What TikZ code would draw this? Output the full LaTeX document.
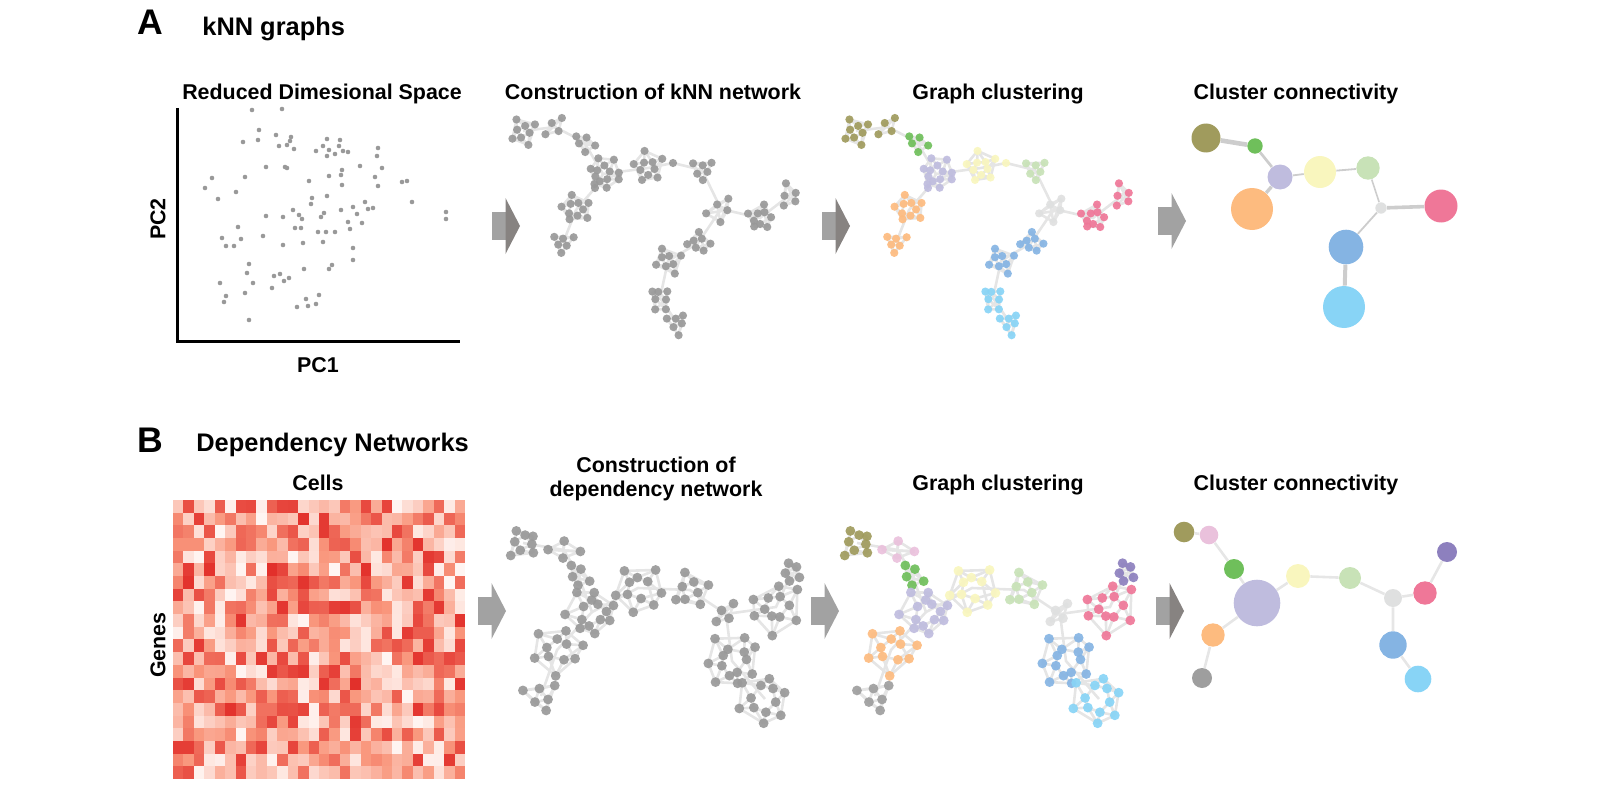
\documentclass[tikz,border=0pt]{standalone}
\usepackage{fontspec}
\setmainfont{Liberation Sans}
\usetikzlibrary{calc}
\pgfdeclarelayer{bg}
\pgfsetlayers{bg,main}
\definecolor{dotgray}{HTML}{999999}
\definecolor{edgegray}{HTML}{E5E5E5}
\definecolor{ccedge}{HTML}{CDCDCD}
\definecolor{ccedgeB}{HTML}{E6E6E6}
\definecolor{hmlow}{HTML}{FFF5F2}
\definecolor{hmmid}{HTML}{F9967C}
\definecolor{hmhigh}{HTML}{E2302B}
\definecolor{olv}{HTML}{A09B5D}
\definecolor{grn}{HTML}{6FBF5B}
\definecolor{lav}{HTML}{BFBCDE}
\definecolor{yel}{HTML}{F9F6BE}
\definecolor{lgr}{HTML}{C8E2B7}
\definecolor{hub}{HTML}{DFE0E0}
\definecolor{pnk}{HTML}{EF7798}
\definecolor{blu}{HTML}{85B4E3}
\definecolor{lbl}{HTML}{88D4F6}
\definecolor{org}{HTML}{FDBB7F}
\definecolor{lpk}{HTML}{EAC1DC}
\definecolor{ppl}{HTML}{8D80BE}
\definecolor{gry}{HTML}{9E9E9E}
\definecolor{arrlt}{HTML}{A2A2A2}
\definecolor{arrdk}{HTML}{878381}
\tikzset{
  ttl/.style={font=\fontsize{10.7}{12}\selectfont\bfseries, inner sep=0pt},
  panel/.style={font=\fontsize{17.8}{20}\selectfont\bfseries, inner sep=0pt},
  sect/.style={font=\fontsize{12.7}{15}\selectfont\bfseries, inner sep=0pt},
  sdot/.style={fill=dotgray, radius=1.15pt},
  lnk/.style={draw=edgegray, line width=1.3pt},
  dotA/.style={radius=2.05pt},
  dotB/.style={radius=2.45pt},
  knn/.style={fill=dotgray, fill opacity=0.92},
  clu/.style={fill=#1, fill opacity=0.92},
  ccnode/.style={circle, inner sep=0pt, draw=none},
  ccA/.style={draw=ccedge},
  ccB/.style={draw=ccedgeB, line width=1.3pt},
}
% name, x, y, radius, count, turn, style
\newcommand{\clus}[7]{
  \coordinate (#1) at (#2,#3);
  \foreach \i in {1,...,#5}{
    \pgfmathsetmacro{\ang}{#6+360*\i/#5+24*rnd-12}
    \pgfmathsetmacro{\rad}{1.15*#4*(isodd(\i) ? 1 : 0.5)*(0.8+0.4*rnd)}
    \coordinate (#1-\i) at ($(#2,#3)+(\ang:\rad)$);
  }
  \begin{pgfonlayer}{bg}
  \foreach \i in {1,...,#5}{
    \pgfmathtruncatemacro{\j}{mod(\i,#5)+1}
    \pgfmathtruncatemacro{\k}{mod(\i+1,#5)+1}
    \draw[lnk] (#1-\i) -- (#1-\j) (#1-\i) -- (#1-\k);
  }
  \end{pgfonlayer}
  \foreach \i in {1,...,#5}{ \fill[#7] (#1-\i) circle; }
}
% x, y, body colour, head colour
\newcommand{\blockarr}[4]{ \fill[#3] (#1,#2-14) rectangle (#1+14,#2+14); \fill[#4] (#1+13.5,#2-28) -- (#1+28,#2) -- (#1+13.5,#2+28) -- cycle;}
% prefix, x shift, mode
\newcommand{\netA}[3]{
  \pgfmathsetseed{11}
  \begin{scope}[shift={(#2,0)}]
    \clus{#1a1}{523}{131}{11}{8}{20}{#3=olv,dotA}
    \clus{#1a2}{555}{127}{9}{4}{45}{#3=olv,dotA}
    \clus{#1a3}{584}{142}{10}{5}{10}{#3=grn,dotA}
    \clus{#1a16}{595}{188}{0}{1}{0}{#3=lav,dotA}
    \clus{#1a4}{603}{174}{14}{13}{0}{#3=lav,dotA}
    \clus{#1a5}{648}{168}{13}{10}{15}{#3=yel,dotA}
    \clus{#1a5b}{673}{163}{0}{1}{0}{#3=yel,dotA}
    \clus{#1a6}{702}{170}{10}{6}{30}{#3=lgr,dotA}
    \clus{#1a7}{721}{209}{12}{5}{90}{#3=hub,dotA}
    \clus{#1a8}{760}{218}{11}{9}{0}{#3=pnk,dotA}
    \clus{#1a9}{790}{195}{9}{5}{40}{#3=pnk,dotA}
    \clus{#1a10}{698}{243}{10}{7}{10}{#3=blu,dotA}
    \clus{#1a11}{668}{261}{11}{8}{25}{#3=blu,dotA}
    \clus{#1a12}{660}{298}{10}{7}{60}{#3=lbl,dotA}
    \clus{#1a13}{677}{323}{9}{6}{15}{#3=lbl,dotA}
    \clus{#1a14}{576}{210}{12}{10}{5}{#3=org,dotA}
    \clus{#1a15}{563}{243}{9}{6}{30}{#3=org,dotA}
  \end{scope}
  \begin{pgfonlayer}{bg}
    \draw[lnk] (#1a1) -- (#1a2) -- (#1a3) -- (#1a4) -- (#1a5) -- (#1a5b) -- (#1a6) -- (#1a7) -- (#1a8) -- (#1a9);
    \draw[lnk] (#1a7) -- (#1a10) -- (#1a11) -- (#1a12) -- (#1a13);
    \draw[lnk] (#1a4) -- (#1a16) -- (#1a14) -- (#1a15);
  \end{pgfonlayer}
}
\newcommand{\netB}[3]{
  \pgfmathsetseed{23}
  \begin{scope}[shift={(#2,0)}]
    \clus{#1b1}{523}{543}{13}{8}{10}{#3=olv,dotB}
    \clus{#1b2}{564}{550}{13}{4}{-90}{#3=lpk,dotB}
    \clus{#1b3}{578}{575}{10}{5}{20}{#3=grn,dotB}
    \clus{#1b4}{592}{612}{21}{14}{0}{#3=lav,dotB}
    \clus{#1b5}{638}{588}{19}{11}{10}{#3=yel,dotB}
    \clus{#1b6}{690}{590}{16}{8}{20}{#3=lgr,dotB}
    \clus{#1b7}{726}{614}{11}{4}{45}{#3=hub,dotB}
    \clus{#1b8}{776}{607}{21}{12}{0}{#3=pnk,dotB}
    \clus{#1b9}{792}{572}{10}{5}{30}{#3=ppl,dotB}
    \clus{#1b10}{732}{661}{22}{14}{5}{#3=blu,dotB}
    \clus{#1b11}{765}{699}{21}{12}{15}{#3=lbl,dotB}
    \clus{#1b12}{557}{650}{20}{11}{0}{#3=org,dotB}
    \clus{#1b13}{541}{696}{14}{6}{20}{#3=gry,dotB}
  \end{scope}
  \begin{pgfonlayer}{bg}
    \draw[lnk] (#1b1) -- (#1b2) -- (#1b3) -- (#1b4) -- (#1b5) -- (#1b6) -- (#1b7) -- (#1b8) -- (#1b9);
    \draw[lnk] (#1b7) -- (#1b10) -- (#1b11);
    \draw[lnk] (#1b4) -- (#1b12) -- (#1b13);
  \end{pgfonlayer}
}

\begin{document}
\begin{tikzpicture}[x=0.5pt,y=-0.5pt]
  \useasboundingbox (0,0) rectangle (1600,792);
  % titles
  \node[panel] (pA) at (150,22.5) {A};
  \node[sect, anchor=base west] (hA) at (202,36) {kNN graphs};
  \node[ttl, anchor=base] (tA1) at (322,100) {Reduced Dimesional Space};
  \node[ttl, anchor=base] (tA2) at (653,100) {Construction of kNN network};
  \node[ttl, anchor=base] (tA3) at (998,100) {Graph clustering};
  \node[ttl, anchor=base] (tA4) at (1296,100) {Cluster connectivity};
  \node[panel] (pB) at (150,440) {B};
  \node[sect, anchor=base west] (hB) at (196,451) {Dependency Networks};
  \node[ttl, anchor=base] (tB1) at (318,490) {Cells};
  \node[ttl, align=center] (tB2) at (656,479) {Construction of\\dependency network};
  \node[ttl, anchor=base] (tB3) at (998,490) {Graph clustering};
  \node[ttl, anchor=base] (tB4) at (1296,490) {Cluster connectivity};
  % scatter
  \coordinate (axtop) at (177,108);
  \coordinate (axorg) at (177,341);
  \coordinate (axend) at (460,341);
  \draw[line width=1.5pt] (axtop) -- (axorg) -- (axend);
  \node[ttl, rotate=90] (pc2) at (158,219) {PC2};
  \node[ttl, anchor=base] (pc1) at (318,372.5) {PC1};
  \foreach \px/\py in {252/110,282/109,259/130,243/142,258/140,276/135,291/137,290/141,279/146,287/145,294/149,316/151,323/146,327/139,329/150,335/154,327/156,340/140,339/146,343/151,348/152,378/148,377/156,382/168,360/166,342/170,341/175,342/185,329/176,309/181,285/167,287/168,266/167,245/177,212/178,205/188,218/199,236/192,375/177,378/186,402/182,407/181,412/202,446/212,446/219,327/196,312/198,311/204,365/202,353/207,373/208,368/209,357/214,341/210,362/223,348/222,350/229,324/213,321/217,335/232,326/232,318/232,323/242,293/210,299/215,302/219,301/228,295/228,303/243,283/217,266/216,263/236,283/245,238/227,222/238,226/246,234/246,241/239,353/248,353/260,332/265,329/269,304/269,249/264,247/273,253/283,274/276,280/274,289/278,284/281,272/288,245/293,220/283,226/296,224/302,249/320,297/307,306/299,308/306,316/304,319/295}
    \fill[sdot] (\px,\py) circle;
  % heatmap
  \pgfmathsetseed{4}
  \foreach \c in {0,...,27}{
    \foreach \r in {0,...,21}{
      \pgfmathrandominteger{\v}{0}{100}
      \ifnum\v<56
        \pgfmathtruncatemacro{\w}{\v*100/56}
        \fill[hmmid!\w!hmlow] ({173+\c*10.43},{500+\r*12.68}) rectangle ++(10.63,12.88);
      \else
        \pgfmathtruncatemacro{\w}{(\v-56)*100/44}
        \fill[hmhigh!\w!hmmid] ({173+\c*10.43},{500+\r*12.68}) rectangle ++(10.63,12.88);
      \fi
    }
  }
  \node[ttl, rotate=90] (genes) at (158,645) {Genes};
  % arrows
  \blockarr{492}{226}{arrlt}{arrdk}
  \blockarr{822}{226}{arrlt}{arrdk}
  \blockarr{1158}{221}{arrlt}{arrlt}
  \blockarr{478}{611}{arrlt}{arrlt}
  \blockarr{811}{611}{arrlt}{arrlt}
  \blockarr{1156}{611}{arrlt}{arrdk}
  % networks
  \netA{k}{0}{knn}
  \netA{c}{333}{clu}
  \netB{d}{0}{knn}
  \netB{g}{334}{clu}
  % cluster connectivity A
  \node[ccnode, fill=olv, minimum size=14.5pt] (ccA-olv) at (1206,138) {};
  \node[ccnode, fill=grn, minimum size=7.7pt] (ccA-grn) at (1255,146) {};
  \node[ccnode, fill=lav, minimum size=12.5pt] (ccA-lav) at (1280,177) {};
  \node[ccnode, fill=org, minimum size=21pt] (ccA-org) at (1252,209) {};
  \node[ccnode, fill=yel, minimum size=16pt] (ccA-yel) at (1320,172) {};
  \node[ccnode, fill=lgr, minimum size=11.7pt] (ccA-lgr) at (1368,168) {};
  \node[ccnode, fill=hub, minimum size=5.7pt] (ccA-hub) at (1381,208) {};
  \node[ccnode, fill=pnk, minimum size=16.5pt] (ccA-pnk) at (1441,206) {};
  \node[ccnode, fill=blu, minimum size=17.3pt] (ccA-blu) at (1346,247) {};
  \node[ccnode, fill=lbl, minimum size=21pt] (ccA-lbl) at (1344,307) {};
  \begin{pgfonlayer}{bg}
    \draw[ccA, line width=2.3pt] (ccA-olv) -- (ccA-grn);
    \draw[ccA, line width=1.35pt] (ccA-grn) -- (ccA-lav);
    \draw[ccA, line width=1.7pt] (ccA-lav) -- (ccA-org);
    \draw[ccA, line width=0.9pt] (ccA-lav) -- (ccA-yel);
    \draw[ccA, line width=0.9pt] (ccA-yel) -- (ccA-lgr);
    \draw[ccA, line width=0.8pt] (ccA-lgr) -- (ccA-hub);
    \draw[ccA, line width=1.8pt] (ccA-hub) -- (ccA-pnk);
    \draw[ccA, line width=0.9pt] (ccA-hub) -- (ccA-blu);
    \draw[ccA, line width=2pt] (ccA-blu) -- (ccA-lbl);
  \end{pgfonlayer}
  % cluster connectivity B
  \node[ccnode, fill=olv, minimum size=10.3pt] (ccB-olv) at (1184,532) {};
  \node[ccnode, fill=lpk, minimum size=9.3pt] (ccB-lpk) at (1209,535) {};
  \node[ccnode, fill=grn, minimum size=10pt] (ccB-grn) at (1234,569) {};
  \node[ccnode, fill=lav, minimum size=23.3pt] (ccB-lav) at (1257,603) {};
  \node[ccnode, fill=org, minimum size=11.7pt] (ccB-org) at (1213,635) {};
  \node[ccnode, fill=gry, minimum size=10pt] (ccB-gry) at (1202,678) {};
  \node[ccnode, fill=yel, minimum size=12pt] (ccB-yel) at (1298,576) {};
  \node[ccnode, fill=lgr, minimum size=11pt] (ccB-lgr) at (1350,578) {};
  \node[ccnode, fill=hub, minimum size=9pt] (ccB-hub) at (1393,598) {};
  \node[ccnode, fill=pnk, minimum size=11.7pt] (ccB-pnk) at (1425,593) {};
  \node[ccnode, fill=ppl, minimum size=10pt] (ccB-ppl) at (1447,552) {};
  \node[ccnode, fill=blu, minimum size=13.7pt] (ccB-blu) at (1393,645) {};
  \node[ccnode, fill=lbl, minimum size=13.3pt] (ccB-lbl) at (1418,679) {};
  \begin{pgfonlayer}{bg}
    \draw[ccB] (ccB-olv) -- (ccB-lpk) -- (ccB-grn) -- (ccB-lav) -- (ccB-org) -- (ccB-gry);
    \draw[ccB] (ccB-lav) -- (ccB-yel) -- (ccB-lgr) -- (ccB-hub) -- (ccB-pnk) -- (ccB-ppl);
    \draw[ccB] (ccB-hub) -- (ccB-blu) -- (ccB-lbl);
  \end{pgfonlayer}
\end{tikzpicture}
\end{document}
